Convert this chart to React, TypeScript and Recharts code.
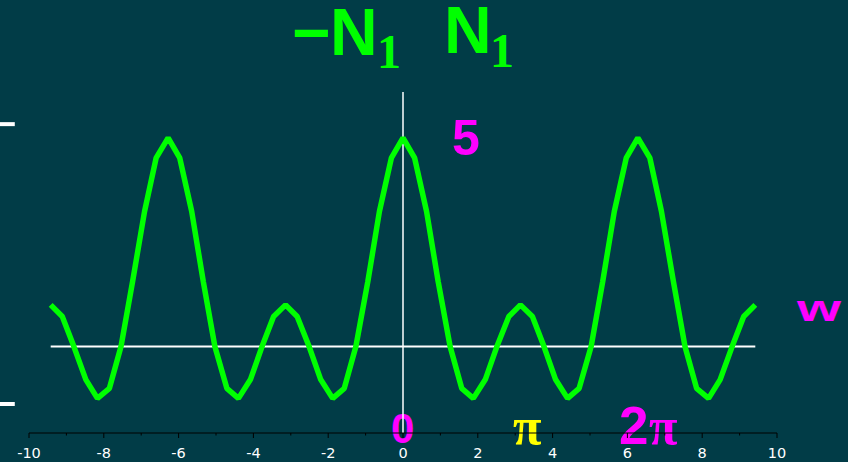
import { CartesianGrid, Customized, Line, LineChart, ReferenceLine, XAxis, YAxis } from 'recharts';

// samples of the curve, w in radians
const wValues = [
  -9.42, -9.11, -8.8, -8.48, -8.17, -7.85, -7.54, -7.23, -6.91, -6.6,
  -6.28, -5.97, -5.65, -5.34, -5.03, -4.71, -4.4, -4.08, -3.77, -3.46,
  -3.14, -2.83, -2.51, -2.2, -1.88, -1.57, -1.26, -0.94, -0.63, -0.31,
  0,
  0.31, 0.63, 0.94, 1.26, 1.57, 1.88, 2.2, 2.51, 2.83, 3.14,
  3.46, 3.77, 4.08, 4.4, 4.71, 5.03, 5.34, 5.65, 5.97, 6.28,
  6.6, 6.91, 7.23, 7.54, 7.85, 8.17, 8.48, 8.8, 9.11, 9.42,
];

const dValues = [
  1, 0.72, 0, -0.79, -1.24, -1, 0, 1.56, 3.24, 4.52,
  5, 4.52, 3.24, 1.56, 0, -1, -1.24, -0.79, 0, 0.72,
  1, 0.72, 0, -0.79, -1.24, -1, 0, 1.56, 3.24, 4.52,
  5,
  4.52, 3.24, 1.56, 0, -1, -1.24, -0.79, 0, 0.72, 1,
  0.72, 0, -0.79, -1.24, -1, 0, 1.56, 3.24, 4.52, 5,
  4.52, 3.24, 1.56, 0, -1, -1.24, -0.79, 0, 0.72, 1,
];

const xTicks = [-10, -9, -8, -7, -6, -5, -4, -3, -2, -1, 0, 1, 2, 3, 4, 5, 6, 7, 8, 9, 10];
const sideMarks = [5.33, -1.375];

const BG = '#013c47';
const GREEN = '#00ff00';
const MAGENTA = '#ff00ff';
const YELLOW = '#ffff00';

const data = wValues.map((w, i) => ({ w, d: dValues[i] }));

function AxisTick(props: any) {
  const { x, y, payload } = props;
  const v = payload.value as number;
  const major = v % 2 === 0;
  return (
    <g>
      <line x1={x} x2={x} y1={y} y2={y + (major ? 5 : 2.5)} stroke="#000" strokeWidth={1} />
      {major && (
        <text x={x} y={y + 25} textAnchor="middle" fill="#fff" fontSize={14.5} fontFamily="DejaVu Sans, sans-serif">
          {String(v)}
        </text>
      )}
    </g>
  );
}

function Annotations() {
  const sans = 'Liberation Sans Narrow, Liberation Sans, Arial, sans-serif';
  const bold = 'Liberation Sans, Arial, sans-serif';
  const serif = 'Liberation Serif, Times New Roman, serif';
  return (
    <g>
      <text x={292} y={55} fill={GREEN} fontFamily={sans} fontWeight="bold" fontSize={66}>
        −
      </text>
      <text x={330} y={55} fill={GREEN} fontFamily={sans} fontWeight="bold" fontSize={66}>
        N
      </text>
      <text x={377} y={68} fill={GREEN} fontFamily={serif} fontWeight="bold" fontSize={48}>
        1
      </text>
      <text x={444} y={53} fill={GREEN} fontFamily={sans} fontWeight="bold" fontSize={66}>
        N
      </text>
      <text x={490} y={67} fill={GREEN} fontFamily={serif} fontWeight="bold" fontSize={48}>
        1
      </text>
      <text x={452} y={155} fill={MAGENTA} fontFamily={bold} fontWeight="bold" fontSize={50}>
        5
      </text>
      <text x={797} y={321} fill={MAGENTA} fontFamily={bold} fontWeight="bold" fontSize={37} textLength={44} lengthAdjust="spacingAndGlyphs">
        w
      </text>
      <text x={391} y={443} fill={MAGENTA} fontFamily={bold} fontWeight="bold" fontSize={42}>
        0
      </text>
      <text x={513} y={444} fill={YELLOW} fontFamily={serif} fontWeight="bold" fontSize={52}>
        π
      </text>
      <text x={619} y={444} fill={MAGENTA} fontFamily={bold} fontWeight="bold" fontSize={53}>
        2
      </text>
      <text x={649} y={444} fill={MAGENTA} fontFamily={serif} fontWeight="bold" fontSize={52}>
        π
      </text>
    </g>
  );
}

export default function App() {
  return (
    <div style={{ position: 'fixed', left: 0, top: 0, width: 848, height: 462, background: BG }}>
      <LineChart width={848} height={462} data={data} margin={{ top: 92, right: 71, bottom: 0, left: 29 }}>
        <CartesianGrid stroke="none" />
        <XAxis
          dataKey="w"
          type="number"
          domain={[-10, 10]}
          ticks={xTicks}
          interval={0}
          height={29}
          stroke="#000"
          tickLine={false}
          tickSize={0}
          tickMargin={0}
          tick={<AxisTick />}
        />
        <YAxis type="number" domain={[-2.07, 6.1]} hide />
        <ReferenceLine x={0} stroke="#fff" strokeWidth={1.5} />
        <ReferenceLine
          segment={[
            { x: -9.42, y: 0 },
            { x: 9.42, y: 0 },
          ]}
          stroke="#fff"
          strokeWidth={2}
        />
        {sideMarks.map((m) => (
          <ReferenceLine
            key={m}
            segment={[
              { x: -10.78, y: m },
              { x: -10.38, y: m },
            ]}
            ifOverflow="visible"
            stroke="#fff"
            strokeWidth={4}
          />
        ))}
        <Line
          dataKey="d"
          type="linear"
          stroke={GREEN}
          strokeWidth={5.5}
          strokeLinejoin="bevel"
          dot={false}
          isAnimationActive={false}
        />
        <Customized component={Annotations} />
      </LineChart>
    </div>
  );
}
